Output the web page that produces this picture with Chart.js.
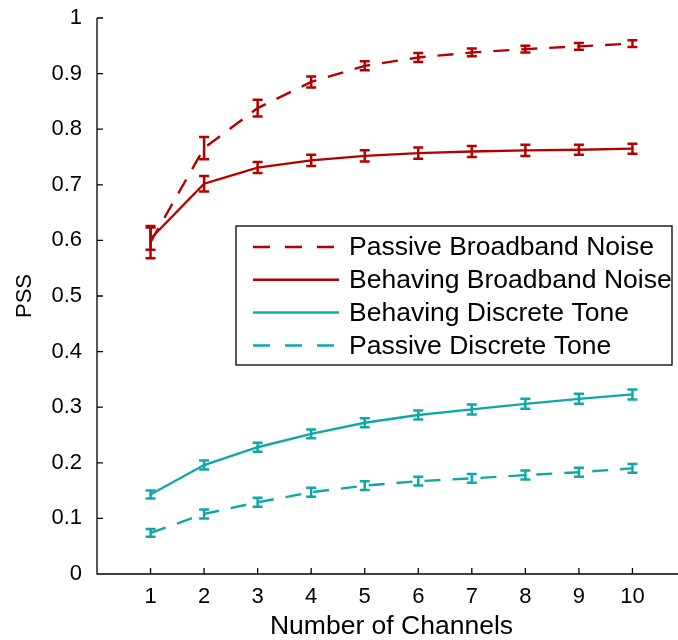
<!DOCTYPE html>
<html>
<head>
<meta charset="utf-8">
<script src="https://cdn.jsdelivr.net/npm/chart.js@4.4.1/dist/chart.umd.min.js"></script>
<style>
html,body{margin:0;padding:0;background:#fff;overflow:hidden;}
#wrap{width:686px;height:640px;position:relative;}
</style>
</head>
<body>
<div id="wrap"><canvas id="chartPSS"></canvas></div>
<script>
// data
const channels = [1,2,3,4,5,6,7,8,9,10];

const passiveBB    = [0.597,0.766,0.838,0.885,0.914,0.929,0.938,0.944,0.949,0.954];
const passiveBBErr = [0.029,0.020,0.015,0.010,0.008,0.008,0.007,0.006,0.006,0.006];

const behavingBB    = [0.603,0.702,0.731,0.744,0.752,0.757,0.760,0.762,0.763,0.765];
const behavingBBErr = [0.020,0.014,0.010,0.010,0.010,0.010,0.010,0.010,0.009,0.009];

const behavingDT    = [0.143,0.196,0.228,0.252,0.272,0.286,0.296,0.306,0.315,0.323];
const behavingDTErr = [0.007,0.008,0.008,0.008,0.008,0.008,0.009,0.009,0.009,0.009];

const passiveDT    = [0.074,0.108,0.129,0.147,0.159,0.167,0.172,0.178,0.183,0.190];
const passiveDTErr = [0.007,0.008,0.008,0.008,0.008,0.008,0.008,0.008,0.008,0.008];

const seriesNames = ["Passive Broadband Noise","Behaving Broadband Noise","Behaving Discrete Tone","Passive Discrete Tone"];
const xTicks = [1,2,3,4,5,6,7,8,9,10];
const yTicks = [0,0.1,0.2,0.3,0.4,0.5,0.6,0.7,0.8,0.9,1];

const RED = "#b40000";
const TEAL = "#0fa8a8";
const DASH = [16,12];
const FONT = "'Liberation Sans', Arial, Helvetica, sans-serif";

function pts(vals){
return channels.map((c,i)=>({x:c,y:vals[i]}));
}

let datasets=[
{label:seriesNames[0],data:pts(passiveBB),errors:passiveBBErr,borderColor:RED,borderDash:DASH},
{label:seriesNames[1],data:pts(behavingBB),errors:behavingBBErr,borderColor:RED,borderDash:[]},
{label:seriesNames[2],data:pts(behavingDT),errors:behavingDTErr,borderColor:TEAL,borderDash:[]},
{label:seriesNames[3],data:pts(passiveDT),errors:passiveDTErr,borderColor:TEAL,borderDash:DASH}
];

datasets.forEach(d=>{
d.borderWidth=2.4;
d.pointRadius=0;
d.fill=false;
d.tension=0;
});

// error bars with small caps
const errorBars={
id:"errorBars",
afterDatasetsDraw(chart){
const ctx=chart.ctx;
const xs=chart.scales.x, ys=chart.scales.y;
chart.data.datasets.forEach(ds=>{
ctx.save();
ctx.strokeStyle=ds.borderColor;
ctx.lineWidth=2.5;
ctx.setLineDash([]);
ds.data.forEach((p,i)=>{
let e=ds.errors[i];
let x=xs.getPixelForValue(p.x);
let y1=ys.getPixelForValue(p.y+e);
let y2=ys.getPixelForValue(p.y-e);
ctx.beginPath();
ctx.moveTo(x,y1);ctx.lineTo(x,y2);
ctx.moveTo(x-5,y1);ctx.lineTo(x+5,y1);
ctx.moveTo(x-5,y2);ctx.lineTo(x+5,y2);
ctx.stroke();
});
ctx.restore();
});
}
};

// matlab style axes: inward ticks, no box
const axesLines={
id:"axesLines",
afterDraw(chart){
const ctx=chart.ctx;
const xs=chart.scales.x, ys=chart.scales.y;
const a=chart.chartArea;
ctx.save();
ctx.strokeStyle="#000";
ctx.lineWidth=1.3;
ctx.beginPath();
ctx.moveTo(a.left,a.top);ctx.lineTo(a.left,a.bottom);ctx.lineTo(a.right,a.bottom);
xTicks.forEach(t=>{
let x=xs.getPixelForValue(t);
ctx.moveTo(x,a.bottom);ctx.lineTo(x,a.bottom-6);
});
yTicks.forEach(t=>{
let y=ys.getPixelForValue(t);
ctx.moveTo(a.left,y);ctx.lineTo(a.left+6,y);
});
ctx.stroke();
ctx.restore();
}
};

// legend box inside the axes
const boxLegend={
id:"boxLegend",
afterDraw(chart){
const ctx=chart.ctx;
let left=236, top=226, w=436, h=139;
ctx.save();
ctx.fillStyle="#fff";
ctx.fillRect(left,top,w,h);
ctx.strokeStyle="#000";
ctx.lineWidth=1.3;
ctx.strokeRect(left,top,w,h);
ctx.font="26.5px "+FONT;
ctx.textBaseline="middle";
chart.data.datasets.forEach((ds,i)=>{
let y=top+21+i*32.8;
ctx.strokeStyle=ds.borderColor;
ctx.lineWidth=2.5;
ctx.setLineDash(ds.borderDash.length?[17,15]:[]);
ctx.beginPath();
ctx.moveTo(253,y);ctx.lineTo(339,y);
ctx.stroke();
ctx.setLineDash([]);
ctx.fillStyle="#000";
ctx.fillText(ds.label,349,y+1);
});
ctx.restore();
}
};

new Chart(document.getElementById("chartPSS"),{
type:"line",
data:{datasets},
options:{
responsive:true,
maintainAspectRatio:false,
animation:false,
layout:{padding:{top:18,right:0,left:0,bottom:0}},
plugins:{legend:{display:false},tooltip:{enabled:false}},
scales:{
x:{
type:"linear",
min:0,max:11,
afterBuildTicks(scale){scale.ticks=xTicks.map(v=>({value:v}));},
afterFit(scale){scale.height=66;scale.paddingLeft=0;scale.paddingRight=0;},
grid:{display:false,drawTicks:false},
border:{display:false},
ticks:{color:"#000",font:{family:FONT,size:22},padding:10,maxRotation:0},
title:{display:true,text:"Number of Channels",color:"#000",font:{family:FONT,size:26.5,lineHeight:1},padding:{top:0,bottom:0}}
},
y:{
min:0,max:1,
afterBuildTicks(scale){scale.ticks=yTicks.map(v=>({value:v}));},
afterFit(scale){scale.width=97;scale.paddingTop=0;scale.paddingBottom=0;},
grid:{display:false,drawTicks:false},
border:{display:false},
ticks:{color:"#000",font:{family:FONT,size:22},padding:15,callback:v=>String(+v.toFixed(1))},
title:{display:true,text:"PSS",color:"#000",font:{family:FONT,size:22},padding:{top:12,bottom:0}}
}
}
},
plugins:[errorBars,axesLines,boxLegend]
});
</script>
</body>
</html>
